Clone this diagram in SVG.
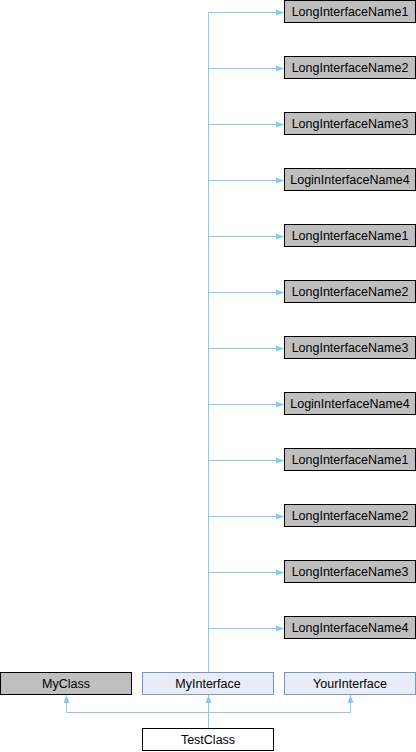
<svg xmlns="http://www.w3.org/2000/svg" width="416" height="752" viewBox="0 0 416 752">
<style>
.bg{fill:#ffffff}
.gray{fill:#bfbfbf;stroke:#000000;stroke-width:1}
.iface{fill:#e8ecf6;stroke:#7b95cc;stroke-width:1}
.white{fill:#ffffff;stroke:#000000;stroke-width:1}
text{font-family:"Liberation Sans",Arial,sans-serif;font-size:12.5px;fill:#000000;text-anchor:middle}
.edge{fill:none;stroke:#88c8ee;stroke-width:1;marker-end:url(#arr)}
</style>
<defs>
<marker id="arr" viewBox="0 0 8 6" refX="8" refY="3" markerWidth="8" markerHeight="6" markerUnits="userSpaceOnUse" orient="auto">
<path d="M0,0 L8,3 L0,6 z" fill="#88c8ee"/>
</marker>
</defs>
<rect class="bg" x="0" y="0" width="416" height="752"/>
<g id="connectors">
<path class="edge" d="M208.5,672 V12.5 H284"/>
<path class="edge" d="M208.5,672 V68.5 H284"/>
<path class="edge" d="M208.5,672 V124.5 H284"/>
<path class="edge" d="M208.5,672 V180.5 H284"/>
<path class="edge" d="M208.5,672 V236.5 H284"/>
<path class="edge" d="M208.5,672 V292.5 H284"/>
<path class="edge" d="M208.5,672 V348.5 H284"/>
<path class="edge" d="M208.5,672 V404.5 H284"/>
<path class="edge" d="M208.5,672 V460.5 H284"/>
<path class="edge" d="M208.5,672 V516.5 H284"/>
<path class="edge" d="M208.5,672 V572.5 H284"/>
<path class="edge" d="M208.5,672 V628.5 H284"/>
<path class="edge" d="M208.5,728 V712.5 H66.5 V695"/>
<path class="edge" d="M208.5,728 V695"/>
<path class="edge" d="M208.5,728 V712.5 H350.5 V695"/>
</g>
<g id="n1"><rect class="gray" x="284.5" y="0.5" width="131" height="22"/><text x="350" y="16">LongInterfaceName1</text></g>
<g id="n2"><rect class="gray" x="284.5" y="56.5" width="131" height="22"/><text x="350" y="72">LongInterfaceName2</text></g>
<g id="n3"><rect class="gray" x="284.5" y="112.5" width="131" height="22"/><text x="350" y="128">LongInterfaceName3</text></g>
<g id="n4"><rect class="gray" x="284.5" y="168.5" width="131" height="22"/><text x="350" y="184">LoginInterfaceName4</text></g>
<g id="n5"><rect class="gray" x="284.5" y="224.5" width="131" height="22"/><text x="350" y="240">LongInterfaceName1</text></g>
<g id="n6"><rect class="gray" x="284.5" y="280.5" width="131" height="22"/><text x="350" y="296">LongInterfaceName2</text></g>
<g id="n7"><rect class="gray" x="284.5" y="336.5" width="131" height="22"/><text x="350" y="352">LongInterfaceName3</text></g>
<g id="n8"><rect class="gray" x="284.5" y="392.5" width="131" height="22"/><text x="350" y="408">LoginInterfaceName4</text></g>
<g id="n9"><rect class="gray" x="284.5" y="448.5" width="131" height="22"/><text x="350" y="464">LongInterfaceName1</text></g>
<g id="n10"><rect class="gray" x="284.5" y="504.5" width="131" height="22"/><text x="350" y="520">LongInterfaceName2</text></g>
<g id="n11"><rect class="gray" x="284.5" y="560.5" width="131" height="22"/><text x="350" y="576">LongInterfaceName3</text></g>
<g id="n12"><rect class="gray" x="284.5" y="616.5" width="131" height="22"/><text x="350" y="632">LongInterfaceName4</text></g>
<g id="myclass"><rect class="gray" x="0.5" y="672.5" width="131" height="22"/><text x="66" y="688">MyClass</text></g>
<g id="myinterface"><rect class="iface" x="142.5" y="672.5" width="131" height="22"/><text x="208" y="688">MyInterface</text></g>
<g id="yourinterface"><rect class="iface" x="284.5" y="672.5" width="131" height="22"/><text x="350" y="688">YourInterface</text></g>
<g id="testclass"><rect class="white" x="142.5" y="728.5" width="131" height="22"/><text x="208" y="744">TestClass</text></g>
</svg>
